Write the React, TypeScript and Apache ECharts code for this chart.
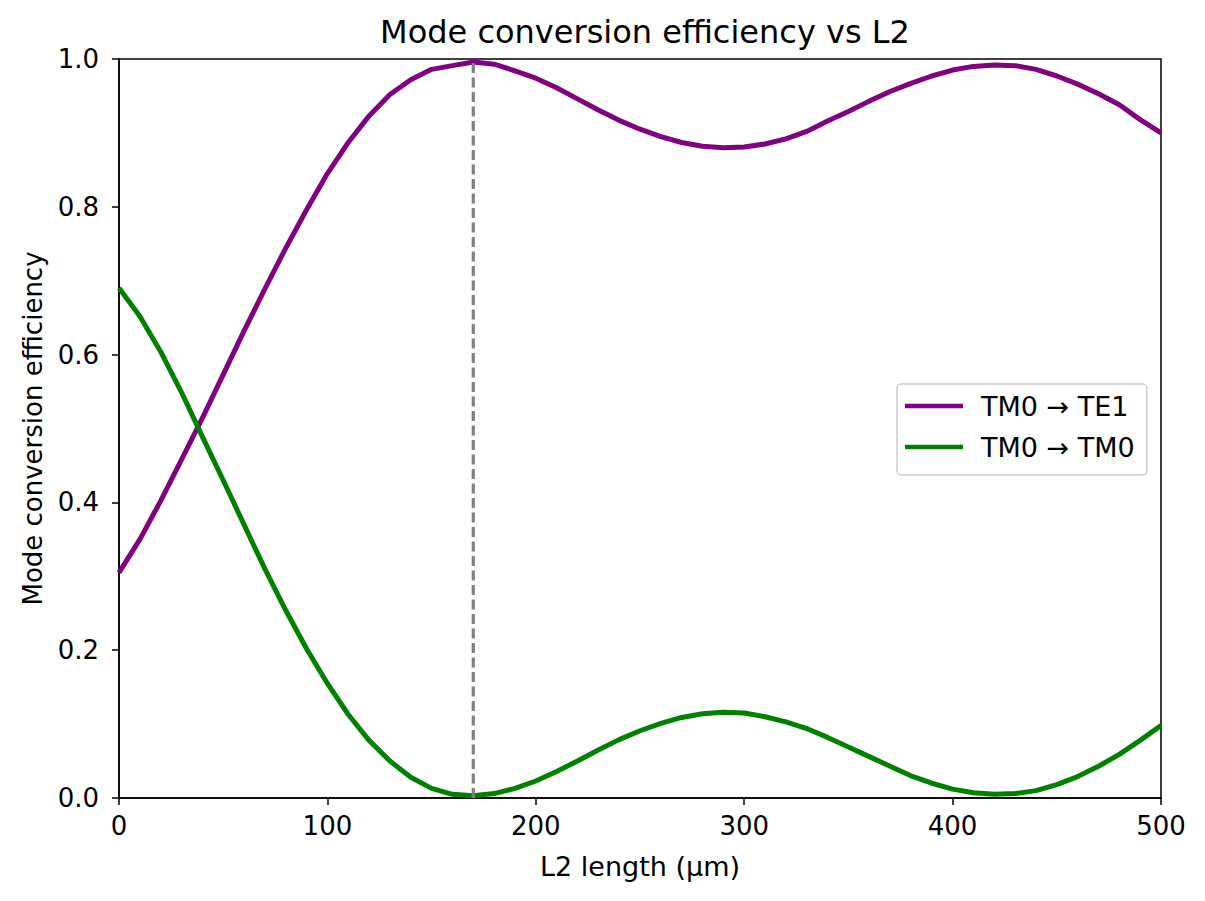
import * as echarts from 'echarts';
import { useEffect, useRef } from 'react';

// L2 length samples (µm), every 10 µm
const lengths = [
  0, 10, 20, 30, 40, 50, 60, 70, 80, 90, 100, 110, 120, 130, 140, 150, 160, 170, 180, 190,
  200, 210, 220, 230, 240, 250, 260, 270, 280, 290, 300, 310, 320, 330, 340, 350, 360, 370,
  380, 390, 400, 410, 420, 430, 440, 450, 460, 470, 480, 490, 500,
];

const te1Values = [
  0.305, 0.35, 0.402, 0.458, 0.514, 0.573, 0.632, 0.689, 0.744, 0.796, 0.845, 0.887, 0.923,
  0.952, 0.972, 0.986, 0.991, 0.996, 0.993, 0.984, 0.974, 0.961, 0.946, 0.931, 0.917, 0.905,
  0.895, 0.887, 0.882, 0.88, 0.881, 0.885, 0.892, 0.902, 0.916, 0.929, 0.943, 0.956, 0.967,
  0.977, 0.985, 0.99, 0.992, 0.991, 0.986, 0.977, 0.966, 0.953, 0.938, 0.918, 0.9,
];

const tm0Values = [
  0.69, 0.652, 0.604, 0.549, 0.489, 0.43, 0.37, 0.31, 0.254, 0.202, 0.155, 0.113, 0.078,
  0.05, 0.028, 0.013, 0.005, 0.003, 0.006, 0.013, 0.023, 0.036, 0.05, 0.065, 0.079, 0.091,
  0.101, 0.109, 0.114, 0.116, 0.115, 0.11, 0.103, 0.094, 0.082, 0.069, 0.056, 0.043, 0.03,
  0.02, 0.012, 0.007, 0.005, 0.006, 0.01, 0.018, 0.029, 0.043, 0.059, 0.078, 0.098,
];

const optimumLength = 170;
const seriesNames = ['TM0 → TE1', 'TM0 → TM0'];
const font = 'DejaVu Sans';

export default function App() {
  const ref = useRef<HTMLDivElement>(null);

  useEffect(() => {
    const el = ref.current;
    if (!el) return undefined;
    const chart = echarts.init(el, undefined, { renderer: 'svg' });
    const pairs = (ys: number[]) => lengths.map((x, i) => [x, ys[i]]);

    chart.setOption({
      animation: false,
      backgroundColor: '#ffffff',
      textStyle: { fontFamily: font, color: '#000' },
      title: {
        text: 'Mode conversion efficiency vs L2',
        left: 640,
        top: 11,
        textAlign: 'center',
        textStyle: { fontFamily: font, fontSize: 32, fontWeight: 'normal', color: '#000' },
      },
      grid: {
        left: 119,
        right: 44,
        top: 59,
        bottom: 103,
        show: true,
        borderColor: '#000',
        borderWidth: 1.5,
        outerBoundsMode: 'none',
      },
      legend: {
        orient: 'vertical',
        left: 897,
        top: 384,
        data: seriesNames,
        icon: 'rect',
        itemWidth: 58,
        itemHeight: 4.5,
        itemGap: 11,
        padding: [7, 12, 13, 8],
        backgroundColor: 'rgba(255,255,255,0.8)',
        borderColor: '#cccccc',
        borderWidth: 1.5,
        borderRadius: 4,
        textStyle: {
          fontFamily: font,
          fontSize: 27,
          color: '#000',
          lineHeight: 30,
          padding: [0, 0, 0, 13],
        },
      },
      xAxis: {
        type: 'value',
        min: 0,
        max: 500,
        interval: 100,
        name: 'L2 length (µm)',
        nameLocation: 'middle',
        nameGap: 55,
        nameTextStyle: { fontFamily: font, fontSize: 27, color: '#000' },
        axisLine: { show: true, onZero: false, lineStyle: { color: '#000', width: 1.5 } },
        axisTick: { show: true, length: 7, lineStyle: { color: '#000', width: 1.5 } },
        axisLabel: { fontFamily: font, fontSize: 26, color: '#000', margin: 15 },
        splitLine: { show: false },
      },
      yAxis: {
        type: 'value',
        min: 0,
        max: 1,
        interval: 0.2,
        name: 'Mode conversion efficiency',
        nameLocation: 'middle',
        nameGap: 73,
        nameTextStyle: { fontFamily: font, fontSize: 26, color: '#000' },
        axisLine: { show: true, lineStyle: { color: '#000', width: 1.5 } },
        axisTick: { show: true, length: 7, lineStyle: { color: '#000', width: 1.5 } },
        axisLabel: {
          fontFamily: font,
          fontSize: 26,
          color: '#000',
          margin: 20,
          formatter: (v: number) => v.toFixed(1),
        },
        splitLine: { show: false },
      },
      series: [
        {
          name: seriesNames[0],
          type: 'line',
          data: pairs(te1Values),
          showSymbol: false,
          lineStyle: { color: '#800080', width: 5 },
          itemStyle: { color: '#800080' },
          z: 3,
        },
        {
          name: seriesNames[1],
          type: 'line',
          data: pairs(tm0Values),
          showSymbol: false,
          lineStyle: { color: '#008000', width: 5 },
          itemStyle: { color: '#008000' },
          z: 3,
        },
        {
          name: 'optimum',
          type: 'line',
          data: [[optimumLength, 0], [optimumLength, 1]],
          showSymbol: false,
          silent: true,
          lineStyle: { color: '#808080', width: 3.2, type: [10, 4.5] },
          itemStyle: { color: '#808080' },
          z: 4,
        },
      ],
    });

    return () => chart.dispose();
  }, []);

  return (
    <div
      ref={ref}
      style={{ position: 'fixed', left: 0, top: 0, width: 1205, height: 901, background: '#fff' }}
    />
  );
}
